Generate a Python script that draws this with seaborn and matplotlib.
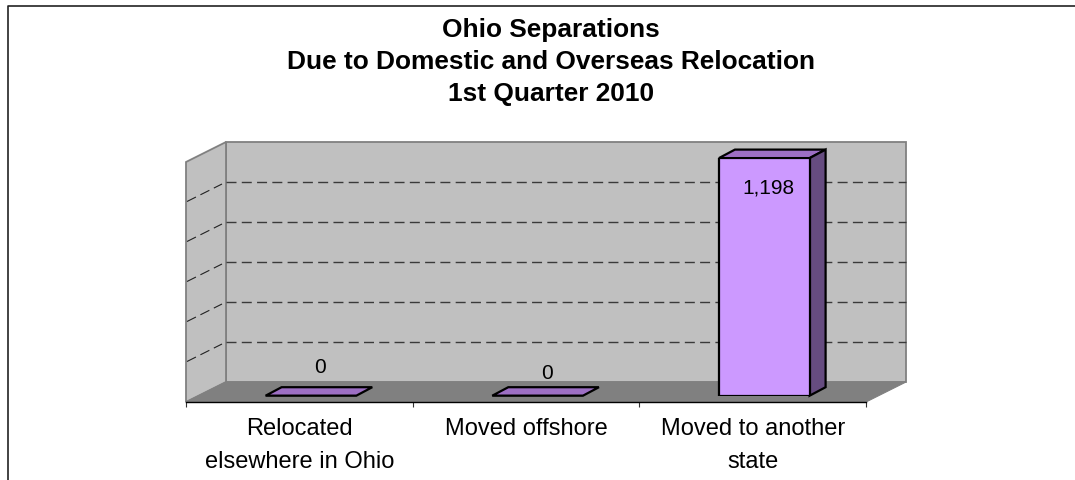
"""Ohio separations: pseudo-3D column chart rebuilt on seaborn axes."""

import matplotlib
matplotlib.use("Agg")
import matplotlib.pyplot as plt
import pandas as pd
import seaborn as sns
from matplotlib.patches import Polygon

categories = ["Relocated\nelsewhere in Ohio", "Moved offshore", "Moved to another\nstate"]
values = [0, 0, 1198]
value_labels = ["0", "0", "1,198"]
grid_values = [200, 400, 600, 800, 1000]
title_lines = ["Ohio Separations", "Due to Domestic and Overseas Relocation", "1st Quarter 2010"]

W, H = 1075, 481
DEPTH_X, DEPTH_Y = 40, 20
BAR_DX, BAR_DY = 16, 8.5
FRONT = "#CC99FF"
TOP = "#9D6FC4"
SIDE = "#664C80"
WALL = "#C0C0C0"
FLOOR = "#808080"

sns.set_theme(style="white")
plt.rcParams["font.family"] = ["Liberation Sans", "DejaVu Sans"]


def px_axes(fig, left, top, right, bottom):
    return fig.add_axes([left / W, 1 - bottom / H, (right - left) / W, (bottom - top) / H])


fig = plt.figure(figsize=(W / 100, H / 100), dpi=100, facecolor="white")

# fondo en pixeles: marco, paredes y suelo
bg = fig.add_axes([0, 0, 1, 1])
bg.set_xlim(0, W)
bg.set_ylim(H, 0)
bg.axis("off")
bg.plot([8, 8, W], [H, 6.5, 6.5], color="#222222", lw=1.2)

wall_l, wall_r = 226, 906
wall_t, wall_b = 143, 383
bg.add_patch(Polygon([(wall_l, wall_t), (wall_r, wall_t), (wall_r, wall_b), (wall_l, wall_b)],
                     fc=WALL, ec=FLOOR, lw=1.3))
bg.add_patch(Polygon([(wall_l - DEPTH_X, wall_t + DEPTH_Y), (wall_l, wall_t), (wall_l, wall_b),
                      (wall_l - DEPTH_X, wall_b + DEPTH_Y)], fc=WALL, ec=FLOOR, lw=1.3))
bg.add_patch(Polygon([(wall_l, wall_b), (wall_r, wall_b), (wall_r - DEPTH_X, wall_b + DEPTH_Y),
                      (wall_l - DEPTH_X, wall_b + DEPTH_Y)], fc=FLOOR, ec=FLOOR, lw=0.8))

for g in grid_values:
    y = wall_b - g * (wall_b - wall_t) / 1200
    bg.plot([wall_l, wall_r], [y, y], color="#3a3a3a", lw=1, dashes=(7.2, 3.8))
    bg.plot([wall_l - DEPTH_X + 1, wall_l - 4], [y + DEPTH_Y - 0.5, y + 2], color="#222222", lw=0.8, dashes=(9, 4.5))

# eje frontal con las etiquetas de categoria
ax_front = px_axes(fig, 186, 300, 866, 403)
ax_front.patch.set_alpha(0)
ax_front.set_xlim(-0.5, 2.5)
ax_front.set_yticks([])
for side in ["top", "left", "right"]:
    ax_front.spines[side].set_visible(False)
ax_front.spines["bottom"].set_color("black")
ax_front.spines["bottom"].set_linewidth(1)
ax_front.set_xticks([-0.5, 0.5, 1.5, 2.5])
ax_front.set_xticklabels([])
ax_front.tick_params(axis="x", which="major", bottom=True, length=3.8, width=0.8, color="#333333")
ax_front.set_xticks([0, 1, 2], labels=categories, minor=True)
ax_front.tick_params(axis="x", which="minor", bottom=False, labelsize=17, pad=6.5, labelcolor="black")
for lab in ax_front.get_xticklabels(minor=True):
    lab.set_linespacing(1.65)

# columnas
df = pd.DataFrame({"category": categories, "value": values})
ax = px_axes(fig, 197.6, 158.7, 877.6, 396.7)
ax.patch.set_alpha(0)
sns.barplot(data=df, x="category", y="value", color=FRONT, saturation=1, width=0.4,
            edgecolor="black", linewidth=1.6, ax=ax)
ax.set_xlim(-0.5, 2.5)
ax.set_ylim(0, 1200)
ax.axis("off")

for bar in ax.patches:
    x0, x1 = bar.get_x(), bar.get_x() + bar.get_width()
    h = bar.get_height()
    (px0, py1), (px1, py0) = ax.transData.transform([(x0, h), (x1, 0)])
    # pasar a pixeles con origen arriba, igual que el fondo
    py0, py1 = H - py0, H - py1
    top = [(px0, py1), (px1, py1), (px1 + BAR_DX, py1 - BAR_DY), (px0 + BAR_DX, py1 - BAR_DY)]
    bg.add_patch(Polygon(top, fc=TOP, ec="black", lw=1.6, zorder=5))
    if h > 0:
        side = [(px1, py1), (px1 + BAR_DX, py1 - BAR_DY), (px1 + BAR_DX, py0 - BAR_DY), (px1, py0)]
        bg.add_patch(Polygon(side, fc=SIDE, ec="black", lw=1.6, zorder=5))

# etiquetas de valor, Excel las deja un poco corridas
label_offsets = [(9, 29), (9, 23), (4.5, -29)]
for i, (v, txt) in enumerate(zip(values, value_labels)):
    ax.annotate(txt, (i, v), xytext=label_offsets[i], textcoords="offset pixels",
                ha="center", va="center", fontsize=15, color="black", annotation_clip=False)

# el titulo va centrado en el grafico original, que era mas ancho que el recorte
for line, y in zip(title_lines, [30, 62, 94]):
    fig.text(551 / W, 1 - y / H, line, ha="center", va="center", fontsize=18.9, fontweight="bold", color="black")

fig.savefig("out.png", dpi=100)
plt.close(fig)
